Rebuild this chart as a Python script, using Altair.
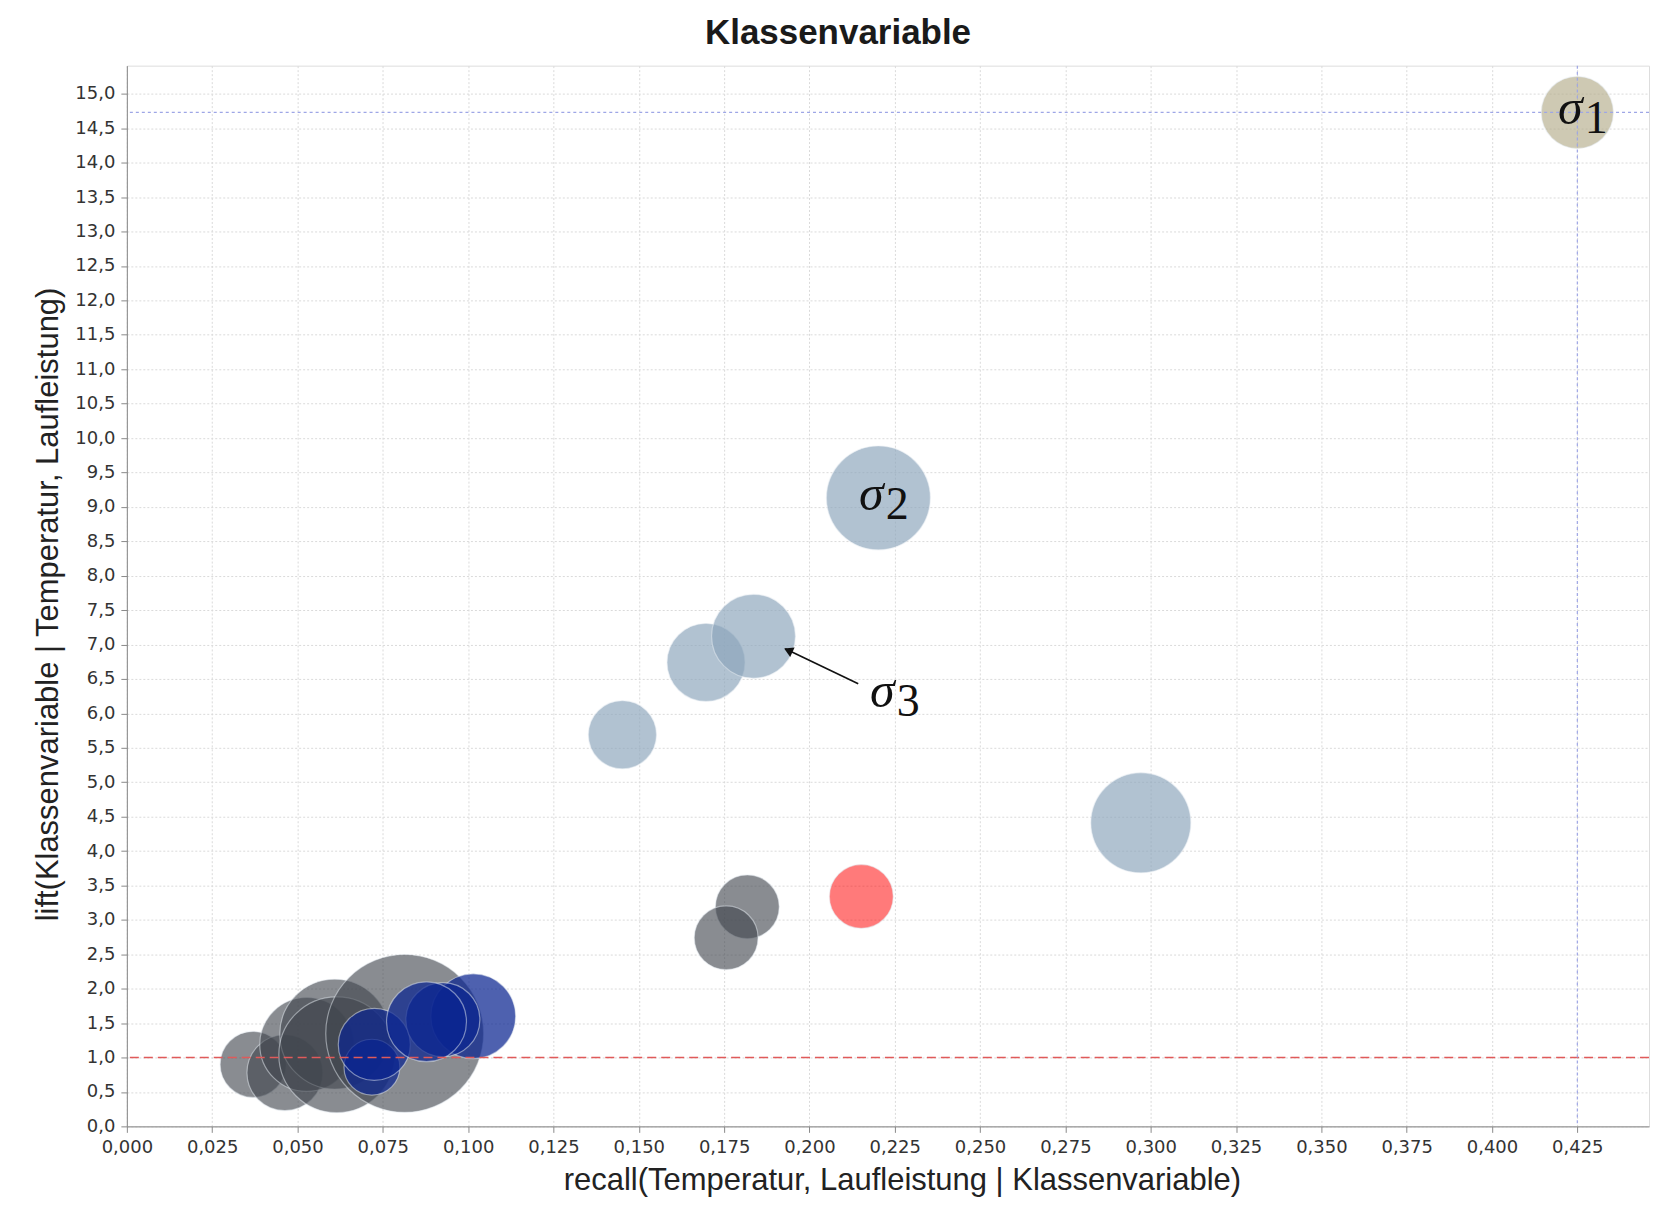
import altair as alt
import pandas as pd

# ---------------- data ----------------
recall = [0.1452, 0.1697, 0.1836, 0.2202, 0.2971, 0.4250,
          0.1818, 0.1756, 0.2152,
          0.0370, 0.0463, 0.0527, 0.0609, 0.0615, 0.0814,
          0.1015, 0.0718, 0.0725, 0.0926, 0.0878]
lift = [5.69, 6.74, 7.12, 9.13, 4.41, 14.73,
        3.19, 2.74, 3.34,
        0.90, 0.78, 1.19, 1.34, 1.04, 1.35,
        1.60, 0.86, 1.19, 1.55, 1.52]
weight = [11.6, 15.2, 17.6, 27.0, 25.0, 13.0,
          10.2, 10.2, 10.2,
          10.9, 14.4, 22.1, 30.2, 33.6, 62.4,
          18.0, 7.8, 13.0, 13.7, 16.0]
group = (["hell"] * 5 + ["sigma1"] + ["grau"] * 2 + ["rot"]
         + ["grau"] * 6 + ["blau"] * 5)

group_names = ["hell", "sigma1", "grau", "rot", "blau"]
group_colors = ["#8ca5bb", "#b3ab88", "#40464d", "#ff0000", "#0a2490"]
group_opacity = [0.68, 0.64, 0.62, 0.52, 0.72]

x_ticks = [0.0, 0.025, 0.05, 0.075, 0.1, 0.125, 0.15, 0.175, 0.2, 0.225,
           0.25, 0.275, 0.3, 0.325, 0.35, 0.375, 0.4, 0.425]
y_ticks = [0.0, 0.5, 1.0, 1.5, 2.0, 2.5, 3.0, 3.5, 4.0, 4.5, 5.0, 5.5, 6.0,
           6.5, 7.0, 7.5, 8.0, 8.5, 9.0, 9.5, 10.0, 10.5, 11.0, 11.5, 12.0,
           12.5, 13.0, 13.5, 14.0, 14.5, 15.0]

# reference lines
baseline_lift = [1.0]
sigma1_recall = [0.425]
sigma1_lift = [14.73]

# annotations
label_sym = ["σ", "σ", "σ"]
label_idx = ["1", "2", "3"]
label_recall = [0.425, 0.2202, 0.2234]
label_lift = [14.73, 9.13, 6.26]
arrow_from = [0.2143, 6.43]
arrow_to = [0.1929, 6.94]
arrow_head = [0.1942, 6.905]

X_MAX = 0.446
Y_MAX = 15.41

df = pd.DataFrame({"recall": recall, "lift": lift, "weight": weight,
                   "group": group, "idx": list(range(len(recall)))})

x_scale = alt.Scale(domain=[0, X_MAX], nice=False, zero=True)
y_scale = alt.Scale(domain=[0, Y_MAX], nice=False, zero=True)

common_axis = dict(
    labelFont="DejaVu Sans", labelFontSize=18, labelColor="#333333",
    tickColor="#8a8a8a", tickSize=6, domainColor="#8a8a8a",
    gridColor="#dadada", gridDash=[2, 2], gridWidth=1,
    titleFont="Liberation Sans", titleFontSize=31, titleFontWeight="normal",
    titleColor="#222222", labelPadding=6, labelOverlap=False, labelFlush=False,
)

x_axis = alt.Axis(values=x_ticks,
                  labelExpr="replace(format(datum.value, '.3f'), '.', ',')",
                  titlePadding=9, titleX=776, **common_axis)
y_axis = alt.Axis(values=y_ticks,
                  labelExpr="replace(format(datum.value, '.1f'), '.', ',')",
                  titlePadding=10, titleY=539, **common_axis)

X_ENC = alt.X("recall:Q", scale=x_scale, axis=x_axis,
              title="recall(Temperatur, Laufleistung | Klassenvariable)")
Y_ENC = alt.Y("lift:Q", scale=y_scale, axis=y_axis,
              title="lift(Klassenvariable | Temperatur, Laufleistung)")
SIZE_ENC = alt.Size("weight:Q", scale=alt.Scale(domain=[0, 100], range=[0, 40000]),
                    legend=None)

base = alt.Chart(df)
bubble_layers = []
for name, col, op in zip(group_names, group_colors, group_opacity):
    bubble_layers.append(
        base.transform_filter(alt.datum.group == name).mark_circle(
            color=col, opacity=1, fillOpacity=op,
            stroke="#e6ebf1", strokeWidth=1.2, strokeOpacity=0.5
        ).encode(x=X_ENC, y=Y_ENC, size=SIZE_ENC, order=alt.Order("idx:Q"))
    )

red_line = alt.Chart(pd.DataFrame({"lift": baseline_lift})).mark_rule(
    color="#e05a5a", strokeDash=[9, 5], strokeWidth=1.4
).encode(y=Y_ENC)

blue_h = alt.Chart(pd.DataFrame({"lift": sigma1_lift})).mark_rule(
    color="#9ea6e6", strokeDash=[3, 3], strokeWidth=1.2
).encode(y=Y_ENC)

blue_v = alt.Chart(pd.DataFrame({"recall": sigma1_recall})).mark_rule(
    color="#9ea6e6", strokeDash=[3, 3], strokeWidth=1.2
).encode(x=X_ENC)

arrow_df = pd.DataFrame({"recall": [arrow_from[0]], "lift": [arrow_from[1]],
                         "recall2": [arrow_to[0]], "lift2": [arrow_to[1]]})
arrow_line = alt.Chart(arrow_df).mark_rule(color="#111111", strokeWidth=1.6).encode(
    x=X_ENC, y=Y_ENC, x2="recall2:Q", y2="lift2:Q",
)
head_df = pd.DataFrame({"recall": [arrow_head[0]], "lift": [arrow_head[1]]})
arrow_tip = alt.Chart(head_df).mark_point(
    shape="triangle", filled=True, size=110, angle=295, color="#111111", opacity=1
).encode(x=X_ENC, y=Y_ENC)

lab_df = pd.DataFrame({"recall": label_recall, "lift": label_lift,
                       "sym": label_sym, "num": label_idx})
sym_text = alt.Chart(lab_df).mark_text(
    font="Liberation Serif", fontStyle="italic", fontSize=50,
    align="center", baseline="alphabetic", dx=-7, dy=12, color="#111111"
).encode(x=X_ENC, y=Y_ENC, text="sym:N")
num_text = alt.Chart(lab_df).mark_text(
    font="Liberation Serif", fontSize=46,
    align="center", baseline="alphabetic", dx=19, dy=21, color="#111111"
).encode(x=X_ENC, y=Y_ENC, text="num:N")

chart = alt.layer(
    *bubble_layers, red_line, blue_h, blue_v, arrow_line, arrow_tip, sym_text, num_text
).properties(
    width=1524, height=1062,
    title=alt.TitleParams("Klassenvariable", font="Liberation Sans", fontSize=35,
                          fontWeight="bold", color="#1a1a1a", anchor="middle",
                          dx=-50, offset=14),
    autosize=alt.AutoSizeParams(type="none"),
    padding={"left": 119, "top": 57, "right": 5, "bottom": 72},
).configure_view(
    stroke="#a0a0a0", strokeWidth=1
).configure(background="white")

chart.save("out.html", embed_options={"renderer": "svg", "actions": False})
